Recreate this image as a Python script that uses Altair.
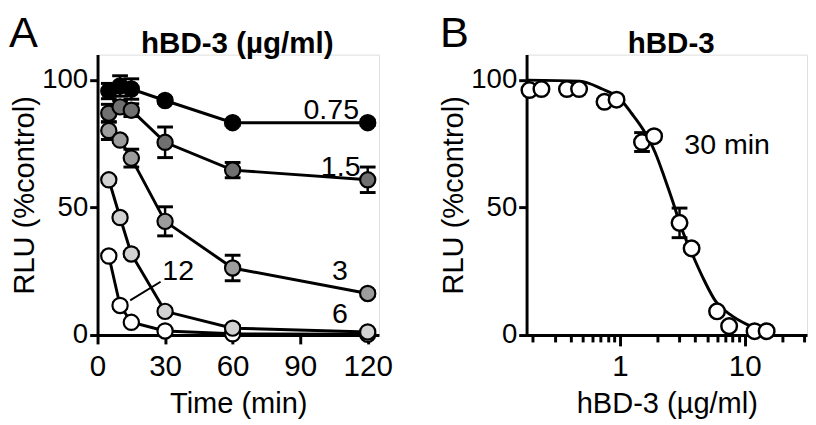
import altair as alt
import pandas as pd

FONT = "Liberation Sans"

# ---------------- Panel A data ----------------
times = [5, 10, 15, 30, 60, 120]
rlu_075 = [95.7, 97.7, 96.5, 92.0, 83.3, 83.3]
sem_075 = [3.0, 4.0, 4.0, 1.0, 1.0, 1.0]
rlu_15 = [87.0, 89.5, 88.2, 75.6, 64.7, 60.9]
sem_15 = [3.5, 2.5, 2.5, 6.0, 3.0, 5.0]
rlu_3 = [80.2, 76.5, 69.4, 44.6, 26.3, 16.3]
sem_3 = [3.5, 1.0, 3.5, 5.7, 5.0, 1.0]
rlu_6 = [60.9, 46.1, 31.8, 9.3, 2.7, 1.2]
sem_6 = [1.0, 1.0, 1.0, 1.0, 1.0, 0.5]
rlu_12 = [31.0, 11.6, 5.0, 1.6, 0.5, 0.3]
sem_12 = [1.0, 1.0, 0.5, 0.5, 0.3, 0.3]

series_names = ["12", "6", "3", "1.5", "0.75"]
series_fill = ["#ffffff", "#d2d2d2", "#9c9c9c", "#707070", "#000000"]
series_vals = [rlu_12, rlu_6, rlu_3, rlu_15, rlu_075]
series_sems = [sem_12, sem_6, sem_3, sem_15, sem_075]

label_text = ["0.75", "1.5", "3", "6", "12"]
label_t = [103.8, 108.0, 107.6, 107.6, 35.8]
label_v = [88.4, 66.0, 25.2, 8.1, 25.2]

leader_t = [14.5]
leader_v = [13.6]
leader_t2 = [28.0]
leader_v2 = [20.9]

# ---------------- Panel B data ----------------
conc = [0.1875, 0.234, 0.375, 0.469, 0.75, 0.9375, 1.5, 1.875, 3.0, 3.75, 6.0, 7.5, 12.0, 15.0]
rlu_b = [96.1, 96.5, 96.5, 96.5, 91.5, 92.3, 75.7, 78.0, 44.0, 34.0, 9.3, 3.5, 1.5, 1.5]
sem_b = [1.0, 1.0, 1.0, 1.0, 1.0, 1.0, 3.7, 1.0, 5.8, 1.0, 1.0, 1.0, 0.5, 0.5]

curve_x = [0.178, 0.475, 0.72, 0.98, 1.24, 1.545, 1.92, 2.30, 2.66, 3.08, 3.83, 4.76, 5.80, 7.62, 10.4, 13.1, 17.2]
curve_y = [100.0, 99.6, 96.5, 93.0, 86.9, 80.3, 71.4, 61.0, 52.1, 42.5, 31.3, 21.2, 13.5, 8.1, 4.2, 2.3, 1.2]

b_label_text = ["30 min"]
b_label_x = [7.22]
b_label_v = [74.5]

log_ticks = [0.2, 0.3, 0.4, 0.5, 0.6, 0.7, 0.8, 0.9, 1, 2, 3, 4, 5, 6, 7, 8, 9, 10, 20, 30]

# ---------------- build tables ----------------
rows = []
for k, (name, vals, sems) in enumerate(zip(series_names, series_vals, series_sems)):
    for t, v, s in zip(times, vals, sems):
        rows.append({"series": name, "idx": k, "time": t, "rlu": v, "sem": s})
dfA = pd.DataFrame(rows)
labA = pd.DataFrame({"text": label_text, "time": label_t, "rlu": label_v})
leadA = pd.DataFrame({"t": leader_t, "v": leader_v, "t2": leader_t2, "v2": leader_v2})

dfB = pd.DataFrame({"conc": conc, "rlu": rlu_b, "sem": sem_b})
curveB = pd.DataFrame({"conc": curve_x, "rlu": curve_y})
labB = pd.DataFrame({"text": b_label_text, "conc": b_label_x, "rlu": b_label_v})

W, H = 286, 285
YLBL = 28
XLBL = 30
TTL = 29.5
ANN = 29

axis_common = dict(
    domainColor="black", domainWidth=3, tickColor="black", tickWidth=3,
    labelColor="black", titleColor="black", grid=False,
    labelFont=FONT, titleFont=FONT, titleFontSize=TTL,
    titleFontWeight="normal",
)


def overlay_text(txt, x, y, size, weight="normal", align="left"):
    return alt.Chart(pd.DataFrame({"t": [txt]})).mark_text(
        font=FONT, fontSize=size, fontWeight=weight, color="black", align=align, baseline="alphabetic"
    ).encode(text="t:N", x=alt.value(x), y=alt.value(y))


def y_axis():
    return alt.Axis(values=[0, 50, 100], title="RLU (%control)", tickSize=8, labelFontSize=YLBL,
                    labelPadding=2, titlePadding=2, **axis_common)


yA = alt.Y("rlu:Q", scale=alt.Scale(domain=[0, 110], nice=False, zero=False), axis=y_axis())
xA = alt.X("time:Q", scale=alt.Scale(domain=[0, 125], nice=False),
           axis=alt.Axis(values=[0, 30, 60, 90, 120], title="Time (min)", tickSize=9, labelFontSize=XLBL,
                         labelPadding=8, titlePadding=9, labelFlush=False, **axis_common))

baseA = alt.Chart(dfA)
linesA = baseA.mark_line(color="black", strokeWidth=3).encode(x=xA, y=yA, detail="series:N")
errA = baseA.transform_calculate(lo="datum.rlu - datum.sem", hi="datum.rlu + datum.sem")
errRuleA = errA.mark_rule(color="black", strokeWidth=2.5).encode(x="time:Q", y="lo:Q", y2="hi:Q")
capLoA = errA.mark_tick(color="black", orient="horizontal", size=16, thickness=3, opacity=1).encode(x="time:Q", y="lo:Q")
capHiA = errA.mark_tick(color="black", orient="horizontal", size=16, thickness=3, opacity=1).encode(x="time:Q", y="hi:Q")
pointsA = baseA.mark_circle(size=240, stroke="black", strokeWidth=2.2, opacity=1).encode(
    x="time:Q", y="rlu:Q",
    fill=alt.Fill("series:N", scale=alt.Scale(domain=series_names, range=series_fill), legend=None),
    order=alt.Order("idx:Q"),
)
textA = alt.Chart(labA).mark_text(font=FONT, fontSize=ANN, color="black", align="center", baseline="middle").encode(
    x="time:Q", y="rlu:Q", text="text:N")
leaderA = alt.Chart(leadA).mark_rule(color="black", strokeWidth=2).encode(x="t:Q", y="v:Q", x2="t2:Q", y2="v2:Q")
letterA = overlay_text("A", -90, -8, 44)
titleA = overlay_text("hBD-3 (µg/ml)", W / 2 - 1, -2, 30, weight="bold", align="center")

panelA = alt.layer(linesA, errRuleA, capLoA, capHiA, pointsA, textA, leaderA, letterA, titleA).properties(
    width=W, height=H,
)

yB = alt.Y("rlu:Q", scale=alt.Scale(domain=[0, 110], nice=False, zero=False), axis=y_axis())
xB = alt.X("conc:Q", scale=alt.Scale(type="log", domain=[0.1778, 31.62], nice=False),
           axis=alt.Axis(values=log_ticks, title="hBD-3 (µg/ml)", labelFontSize=XLBL,
                         tickSize={"condition": {"test": "datum.value == 1 || datum.value == 10", "value": 11}, "value": 7},
                         labelExpr="(datum.value == 1 || datum.value == 10) ? format(datum.value, 'd') : ''",
                         labelPadding=6, titlePadding=9, labelFlush=False, **axis_common))

curveLayer = alt.Chart(curveB).mark_line(color="black", strokeWidth=3, interpolate="monotone").encode(x=xB, y=yB)
errB = alt.Chart(dfB).transform_calculate(lo="datum.rlu - datum.sem", hi="datum.rlu + datum.sem")
errRuleB = errB.mark_rule(color="black", strokeWidth=2.5).encode(x="conc:Q", y="lo:Q", y2="hi:Q")
capLoB = errB.mark_tick(color="black", orient="horizontal", size=16, thickness=3, opacity=1).encode(x="conc:Q", y="lo:Q")
capHiB = errB.mark_tick(color="black", orient="horizontal", size=16, thickness=3, opacity=1).encode(x="conc:Q", y="hi:Q")
pointsB = alt.Chart(dfB).mark_circle(size=250, stroke="black", strokeWidth=2.5, fill="white", opacity=1).encode(
    x="conc:Q", y="rlu:Q")
textB = alt.Chart(labB).mark_text(font=FONT, fontSize=ANN, color="black", align="center", baseline="middle").encode(
    x="conc:Q", y="rlu:Q", text="text:N")
letterB = overlay_text("B", -88, -8, 44)
titleB = overlay_text("hBD-3", 147, -2, 30, weight="bold", align="center")

panelB = alt.layer(curveLayer, errRuleB, capLoB, capHiB, pointsB, textB, letterB, titleB).properties(
    width=285, height=H,
)

chart = alt.hconcat(panelA, panelB, spacing=45).properties(
    padding={"left": 0, "top": 0, "right": 0, "bottom": 0}
).configure_view(stroke=None).configure(background="white")

chart.save("out.html", embed_options={"renderer": "svg", "actions": False})
